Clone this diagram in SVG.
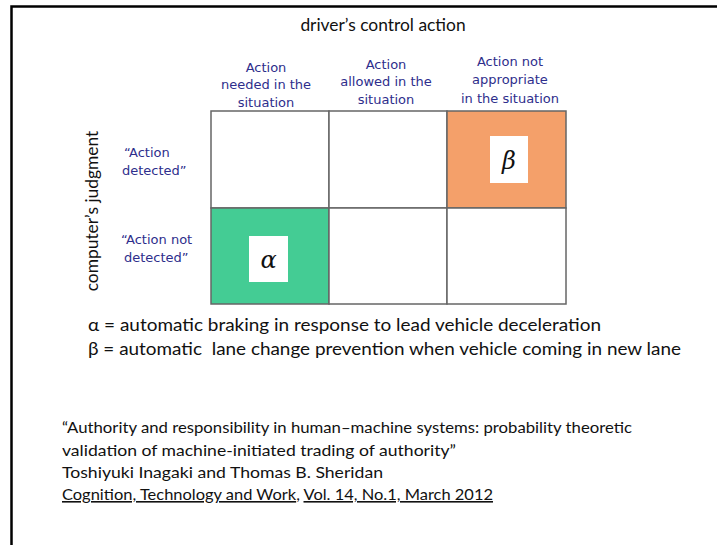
<svg xmlns="http://www.w3.org/2000/svg" width="717" height="545" viewBox="0 0 717 545">
<style>
.cal{font-family:Lato,"Liberation Sans",sans-serif;fill:#111}
.ver{font-family:"DejaVu Sans",Verdana,sans-serif;font-size:13px;fill:#2e2e8c}
.cell{stroke:#666;stroke-width:1.5;fill:#fff}
.box{fill:#fff}
.greek{font-family:"DejaVu Serif","Liberation Serif",serif;font-style:italic;font-size:24px;fill:#111}
</style>
<rect width="717" height="545" fill="#fff"/>
<path d="M11.5 545 V6.5 H717" fill="none" stroke="#000" stroke-width="2.5"/>
<text class="cal" x="383" y="31" font-size="17.4" text-anchor="middle">driver’s control action</text>
<g id="col1"><text class="ver" text-anchor="middle"><tspan x="266" y="72">Action</tspan><tspan x="266" y="89">needed in the</tspan><tspan x="266" y="107">situation</tspan></text></g>
<g id="col2"><text class="ver" text-anchor="middle"><tspan x="386" y="69">Action</tspan><tspan x="386" y="86">allowed in the</tspan><tspan x="386" y="104">situation</tspan></text></g>
<g id="col3"><text class="ver" text-anchor="middle"><tspan x="510" y="66">Action not</tspan><tspan x="510" y="84">appropriate</tspan><tspan x="510" y="103">in the situation</tspan></text></g>
<g id="row1"><text class="ver"><tspan x="124" y="157">“Action</tspan><tspan x="122" y="175">detected”</tspan></text></g>
<g id="row2"><text class="ver"><tspan x="121" y="244">“Action not</tspan><tspan x="124" y="262">detected”</tspan></text></g>
<text class="cal" font-size="17.4" transform="translate(98 211) rotate(-90)" text-anchor="middle">computer’s judgment</text>
<g id="grid">
<rect class="cell" x="211" y="111" width="118" height="97"/>
<rect class="cell" x="329" y="111" width="118" height="97"/>
<rect class="cell" x="447" y="111" width="119" height="97" style="fill:#f4a06a"/>
<rect class="cell" x="211" y="208" width="118" height="96" style="fill:#44cc94"/>
<rect class="cell" x="329" y="208" width="118" height="96"/>
<rect class="cell" x="447" y="208" width="119" height="96"/>
</g>
<g id="beta"><rect class="box" x="490" y="136" width="38" height="47"/><text class="greek" x="509" y="169" text-anchor="middle">β</text></g>
<g id="alpha"><rect class="box" x="249" y="236" width="39" height="46"/><text class="greek" x="268.5" y="268" text-anchor="middle">α</text></g>
<text class="cal" font-size="17.5" x="88" y="331" textLength="513" lengthAdjust="spacingAndGlyphs">α = automatic braking in response to lead vehicle deceleration</text>
<text class="cal" font-size="17.5" x="88" y="355" textLength="593" lengthAdjust="spacingAndGlyphs" xml:space="preserve">β = automatic  lane change prevention when vehicle coming in new lane</text>
<g class="cal" font-size="16">
<text x="62" y="433" textLength="570" lengthAdjust="spacingAndGlyphs">“Authority and responsibility in human–machine systems: probability theoretic</text>
<text x="62" y="456" textLength="394" lengthAdjust="spacingAndGlyphs">validation of machine-initiated trading of authority”</text>
<text x="62" y="478" textLength="321" lengthAdjust="spacingAndGlyphs">Toshiyuki Inagaki and Thomas B. Sheridan</text>
<text x="62" y="500" textLength="431" lengthAdjust="spacingAndGlyphs"><tspan text-decoration="underline">Cognition, Technology and Work</tspan>, <tspan text-decoration="underline">Vol. 14, No.1, March 2012</tspan></text>
</g>
</svg>
